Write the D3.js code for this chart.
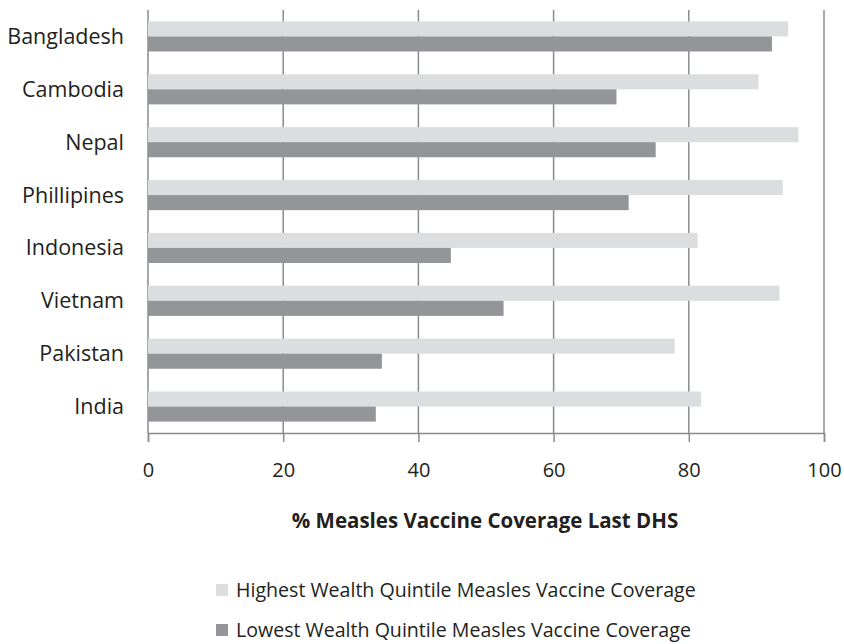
<!DOCTYPE html>
<html>
<head>
<meta charset="utf-8">
<script src="https://cdn.jsdelivr.net/npm/d3@7"></script>
<style>
  body { margin: 0; background: #fff; }
  text { font-family: "Open Sans", "Noto Sans", sans-serif; fill: #231f20; }
</style>
</head>
<body>
<div id="chart"></div>
<script>
// data
const countries = ['Bangladesh', 'Cambodia', 'Nepal', 'Phillipines', 'Indonesia', 'Vietnam', 'Pakistan', 'India']
const highest = [94.7, 90.3, 96.2, 93.9, 81.3, 93.4, 77.9, 81.8]
const lowest = [92.3, 69.3, 75.1, 71.1, 44.8, 52.6, 34.6, 33.7]
const xTicks = [0, 20, 40, 60, 80, 100]
const seriesNames = [
  'Highest Wealth Quintile Measles Vaccine Coverage',
  'Lowest Wealth Quintile Measles Vaccine Coverage',
]
const seriesColors = ['#dcdddf', '#939598']

const dms = { width: 844, height: 644, left: 148, right: 824, top: 10, bottom: 433 }

const svg = d3.select('#chart')
  .append('svg')
  .attr('width', dms.width)
  .attr('height', dms.height)

const x = d3.scaleLinear()
  .domain([0, 100])
  .range([dms.left, dms.right])

const y = d3.scaleBand()
  .domain(countries)
  .range([dms.top, dms.bottom])
  .paddingInner(0.43)
  .paddingOuter(0.215)

const sub = d3.scaleBand()
  .domain([0, 1])
  .range([0, y.bandwidth()])

// gridlines
svg.append('g')
  .selectAll('line')
  .data(xTicks)
  .join('line')
  .attr('x1', d => x(d))
  .attr('x2', d => x(d))
  .attr('y1', dms.top)
  .attr('y2', dms.bottom)
  .attr('stroke', '#8a8b8d')
  .attr('stroke-width', 1.5)

// bars
const rows = countries.map((c, i) => ({ country: c, values: [highest[i], lowest[i]] }))

svg.append('g')
  .selectAll('g')
  .data(rows)
  .join('g')
  .attr('transform', d => `translate(0,${y(d.country)})`)
  .selectAll('rect')
  .data(d => d.values.map((v, k) => ({ v, k })))
  .join('rect')
  .attr('x', x(0))
  .attr('y', d => sub(d.k))
  .attr('width', d => x(d.v) - x(0))
  .attr('height', sub.bandwidth())
  .attr('fill', d => seriesColors[d.k])

// x axis
const xAxis = svg.append('g')
  .attr('transform', `translate(0,${dms.bottom})`)
  .call(d3.axisBottom(x).tickValues(xTicks).tickSize(9).tickPadding(21))
xAxis.select('.domain').attr('stroke', '#8a8b8d').attr('stroke-width', 1.5)
xAxis.selectAll('.tick line').attr('stroke', '#8a8b8d').attr('stroke-width', 1.5)
xAxis.selectAll('.tick text')
  .attr('font-size', 20)
  .attr('font-family', '"Open Sans", sans-serif')
  .attr('fill', '#231f20')

// y labels
svg.append('g')
  .selectAll('text')
  .data(countries)
  .join('text')
  .attr('x', 124)
  .attr('y', d => y(d) + y.bandwidth() / 2)
  .attr('dy', '0.35em')
  .attr('text-anchor', 'end')
  .attr('font-size', 21.5)
  .text(d => d)

// axis title
svg.append('text')
  .attr('x', 485)
  .attr('y', 528)
  .attr('text-anchor', 'middle')
  .attr('font-size', 20.5)
  .attr('font-weight', 'bold')
  .text('% Measles Vaccine Coverage Last DHS')

// legend
const legend = svg.append('g')
  .selectAll('g')
  .data(seriesNames)
  .join('g')
  .attr('transform', (d, i) => `translate(216,${590 + i * 40})`)
legend.append('rect')
  .attr('x', 0)
  .attr('y', -6)
  .attr('width', 12)
  .attr('height', 12)
  .attr('fill', (d, i) => seriesColors[i])
legend.append('text')
  .attr('x', 20)
  .attr('dy', '0.35em')
  .attr('font-size', 19.6)
  .text(d => d)
</script>
</body>
</html>
